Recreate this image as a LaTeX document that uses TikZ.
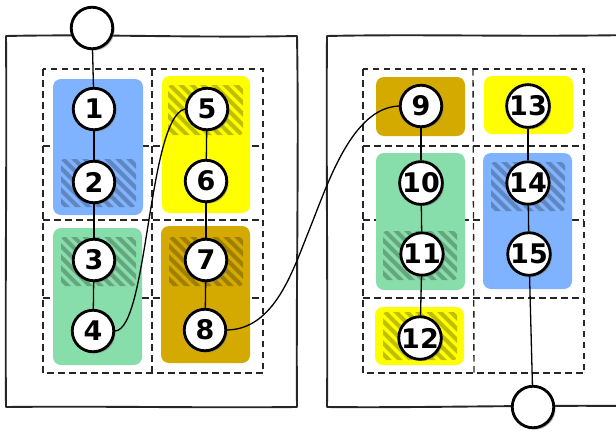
\documentclass[tikz,border=0pt]{standalone}
\usepackage{fontspec}
\newfontfamily\numfont{DejaVu Sans}
\usetikzlibrary{shadows}

\definecolor{lblue}{HTML}{80B3FF}
\definecolor{lgreen}{HTML}{87DEAA}
\definecolor{dyellow}{HTML}{D4AA00}
\definecolor{yell}{HTML}{FFFF00}

\tikzset{
  frame/.style={line width=1.9pt, draw=black!85, line join=round},
  gridline/.style={dash pattern=on 6.5pt off 4.5pt, line width=1.4pt, draw=black!85},
  lane/.style={rounded corners=8pt},
  hatchline/.style={line width=4.2pt, draw=black, opacity=0.25},
  num/.style={circle, draw=black, line width=2.8pt, fill=white,
    minimum size=41.5pt, inner sep=0pt,
    font=\numfont\bfseries\fontsize{27}{27}\selectfont,
    drop shadow={shadow xshift=1.8pt, shadow yshift=-1.8pt, opacity=0.6}},
  link/.style={line width=1.3pt},
  flow/.style={line width=1.3pt},
}

% diagonal stripes inside a small rounded rectangle: x1,y1,x2,y2
\newcommand\hatchbox[4]{%
  \begin{scope}
    \clip[rounded corners=3pt] (#1,#2) rectangle (#3,#4);
    \foreach \k in {-66,-55,...,88}
      \draw[hatchline] ({#1+\k},{#2-2}) -- ++(70,70);
  \end{scope}}

\begin{document}
\begin{tikzpicture}[x=1pt,y=-1pt]
\useasboundingbox (0,0) rectangle (616,434);
\fill[white] (0,0) rectangle (616,434);

% hand-drawn frames
\draw[frame] (6,36) .. controls (100,34) and (200,38) .. (297,36)
  .. controls (299,150) and (296,300) .. (297,407)
  .. controls (200,408) and (100,406) .. (6,407)
  .. controls (5,300) and (7,150) .. cycle;
\draw[frame] (630,35) .. controls (520,37) and (420,34) .. (327,36)
  .. controls (326,150) and (328,300) .. (327,407)
  .. controls (420,408) and (520,405) .. (630,406);

% dashed grids
\draw[gridline] (43,69) rectangle (263,373);
\draw[gridline] (152,69) -- (152,373);
\foreach \yy in {146,220,298} \draw[gridline] (43,\yy) -- (263,\yy);
\draw[gridline] (363,69) rectangle (584,373);
\draw[gridline] (473,69) -- (474,373);
\foreach \yy in {146,220,298} \draw[gridline] (363,\yy) -- (584,\yy);

% coloured lanes
\fill[lane, lblue]   (53,79)  rectangle (143,215);
\fill[lane, yell]    (162,76) rectangle (250,213);
\fill[lane, lgreen]  (53,228) rectangle (142,365);
\fill[lane, dyellow] (161,226) rectangle (250,363);
\fill[lane, dyellow] (376,77) rectangle (465,136);
\fill[lane, yell]    (484,76) rectangle (573,134);
\fill[lane, lgreen]  (376,153) rectangle (465,290);
\fill[lane, lblue]   (483,153) rectangle (572,289);
\fill[lane, yell]    (375,307) rectangle (464,365);

% striped regions
\hatchbox{61}{159}{136}{207}
\hatchbox{168}{85}{243}{135}
\hatchbox{61}{237}{136}{286}
\hatchbox{169}{237}{243}{286}
\hatchbox{383}{231}{457}{280}
\hatchbox{491}{162}{565}{211}
\hatchbox{383}{312}{457}{360}

% nodes
\node[num] (top) at (92,28) {};
\node[num] (bot) at (533,407) {};
\node[num] (n1) at (94,109) {1};
\node[num] (n2) at (94,182) {2};
\node[num] (n3) at (94,260) {3};
\node[num] (n4) at (93,331) {4};
\node[num] (n5) at (207,109) {5};
\node[num] (n6) at (206,181) {6};
\node[num] (n7) at (206,260) {7};
\node[num] (n8) at (205,330) {8};
\node[num] (n9) at (421,106) {9};
\node[num] (n10) at (421,183) {10};
\node[num] (n11) at (422,254) {11};
\node[num] (n12) at (420,338) {12};
\node[num] (n13) at (528,106) {13};
\node[num] (n14) at (528,183) {14};
\node[num] (n15) at (529,254) {15};

% connectors
\draw[link] (top) -- (n1);
\draw[link] (n1) -- (n2);
\draw[link] (n2) -- (n3);
\draw[link] (n3) -- (n4);
\draw[link] (n5) -- (n6);
\draw[link] (n6) -- (n7);
\draw[link] (n7) -- (n8);
\draw[link] (n9) -- (n10);
\draw[link] (n10) -- (n11);
\draw[link] (n11) -- (n12);
\draw[link] (n13) -- (n14);
\draw[link] (n14) -- (n15);
\draw[link] (n15) -- (bot);
\draw[flow] (n4.east) .. controls (148,329) and (148,118) .. (n5.west);
\coordinate (mid89) at (310,228);
\draw[flow] (n8.east) .. controls (275,329) and (293,270) .. (mid89)
  .. controls (328,183) and (352,108) .. (n9.west);
\end{tikzpicture}
\end{document}
